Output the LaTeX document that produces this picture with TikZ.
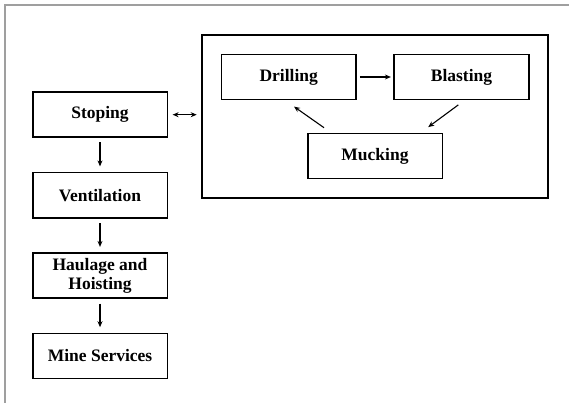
\documentclass[tikz,border=0pt]{standalone}
\usepackage{fontspec}
\setmainfont{Liberation Serif}
\usetikzlibrary{arrows.meta,calc}
\begin{document}
\begin{tikzpicture}[x=1pt,y=-1pt,
  stepbox/.style={draw=black,line width=1.6pt,minimum width=134.6pt,minimum height=45pt,
    inner sep=1pt,align=center,font=\fontsize{17.5}{18.5}\selectfont\bfseries},
  conn/.style={line width=1.1pt,-{Stealth[length=6pt,width=5pt]}},
  dconn/.style={line width=1.1pt,{Stealth[length=6pt,width=5pt]}-{Stealth[length=6pt,width=5pt]}}]
\useasboundingbox (0,0) rectangle (569,403);
\fill[white] (0,0) rectangle (569,403);
\coordinate (fa) at (5,403);
\coordinate (fb) at (5,5);
\coordinate (fc) at (569,5);
\draw[gray!75,line width=1.3pt] (fa) -- (fb) -- (fc);
% left column
\node[stepbox] (stoping) at (100,114.7) {Stoping};
\node[stepbox] (vent) at (100,195.2) {Ventilation};
\node[stepbox] (haul) at (100,275.7) {Haulage and\\Hoisting};
\node[stepbox] (mine) at (100,356) {Mine Services};
% cycle box
\node[draw=black,line width=1.6pt,minimum width=346pt,minimum height=162.7pt,inner sep=0pt] (cycle) at (375,116.35) {};
\node[stepbox] (drill) at (288.7,77) {Drilling};
\node[stepbox] (blast) at (461.5,77) {Blasting};
\node[stepbox] (muck) at (375,156) {Mucking};
% connectors
\draw[conn,shorten <=4.5pt,shorten >=5.5pt] (stoping) -- (vent);
\draw[conn,shorten <=4.5pt,shorten >=5.5pt] (vent) -- (haul);
\draw[conn,shorten <=4.5pt,shorten >=5.5pt] (haul) -- (mine);
\draw[dconn,shorten <=4.5pt,shorten >=4.5pt] (stoping.east) -- (stoping.east -| cycle.west);
\draw[conn,shorten <=3pt,shorten >=2.5pt] (drill) -- (blast);
\coordinate (m1) at ($(muck.north)+(-51pt,5pt)$);
\coordinate (d1) at ($(drill.south)+(5.3pt,-6.3pt)$);
\coordinate (b1) at ($(blast.south)+(-3.2pt,-4.6pt)$);
\coordinate (m2) at ($(muck.north)+(53.2pt,5.6pt)$);
\draw[conn] (m1) -- (d1);
\draw[conn] (b1) -- (m2);
\end{tikzpicture}
\end{document}
